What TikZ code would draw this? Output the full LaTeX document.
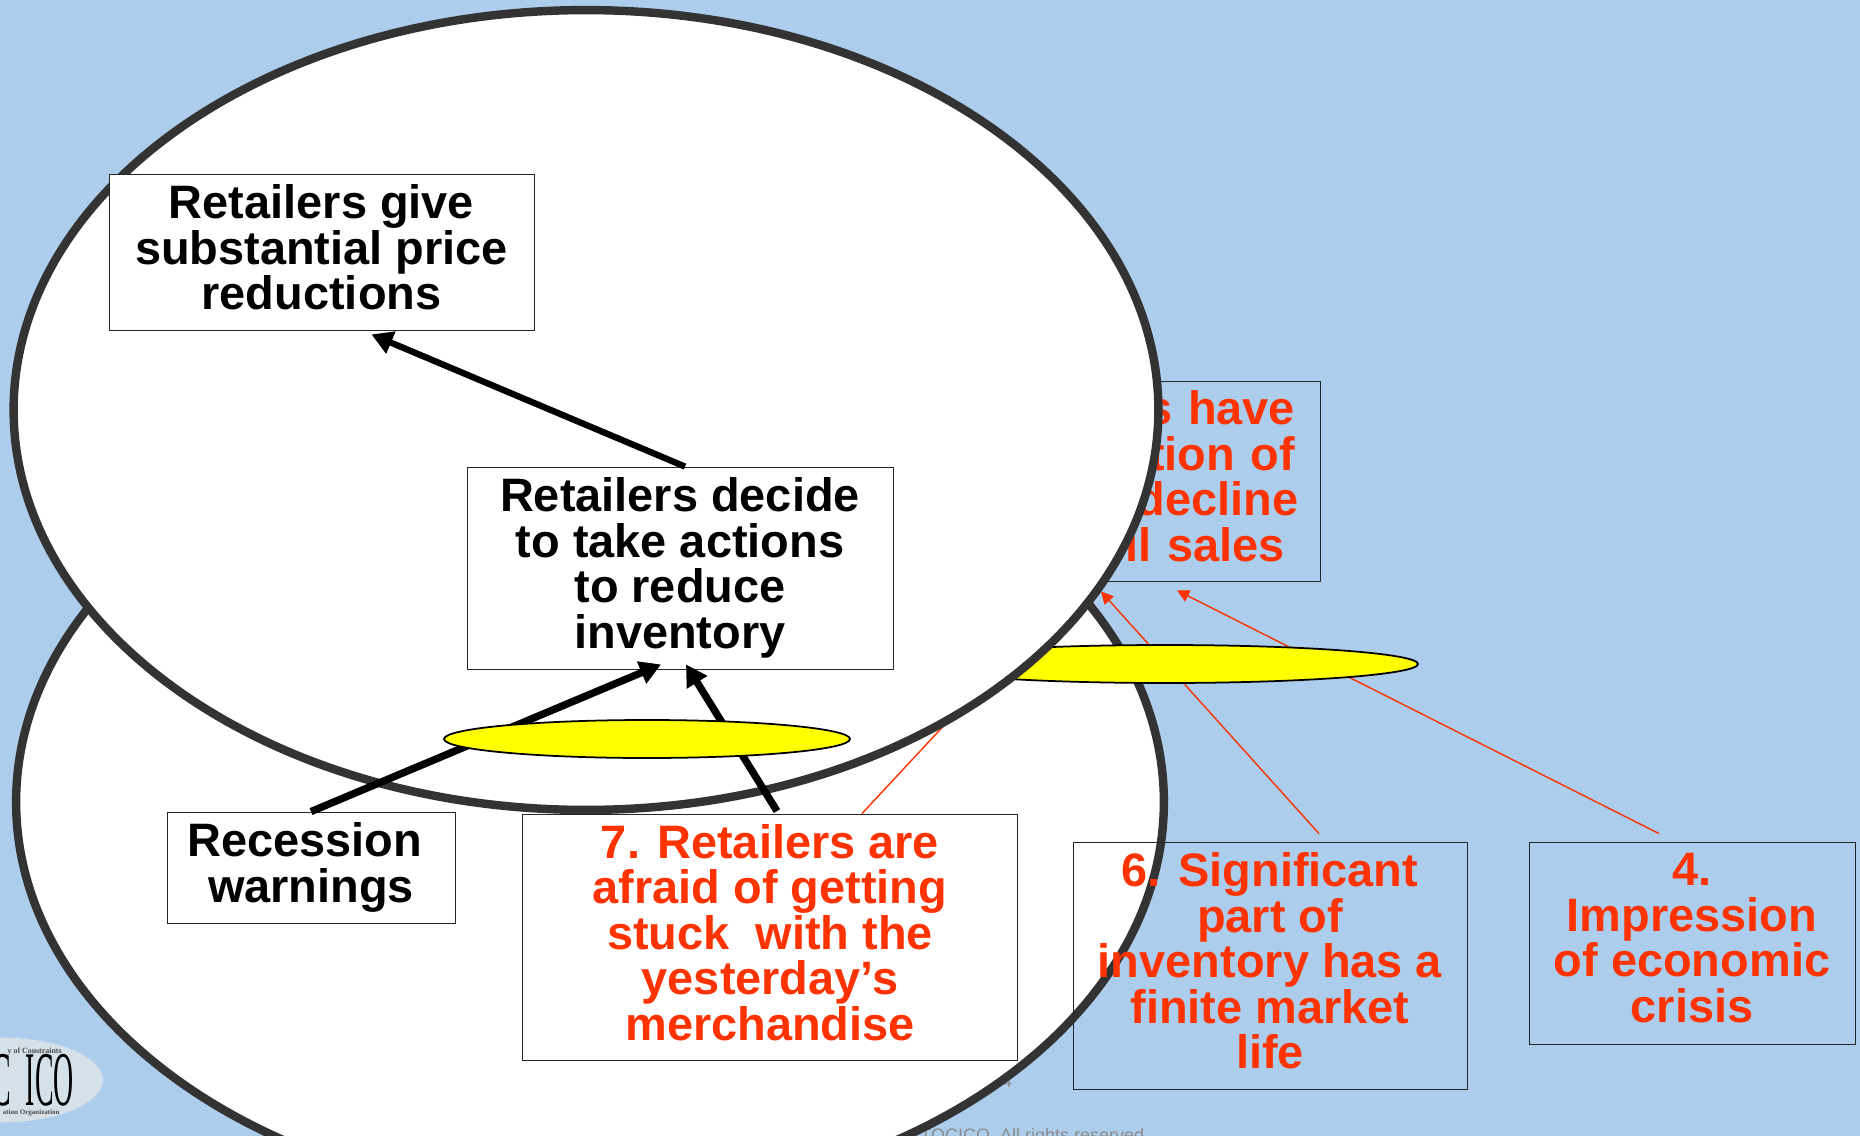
\documentclass[tikz,border=0pt]{standalone}
\usepackage{fontspec}
\setmainfont{Liberation Sans}
\newfontfamily\logofont{Liberation Serif}
\usetikzlibrary{shapes.geometric}
\usetikzlibrary{arrows.meta}
\definecolor{slidebg}{HTML}{ACCDEC}
\definecolor{causered}{HTML}{FF3300}
\definecolor{ringgrey}{HTML}{333333}
\definecolor{ovalyellow}{HTML}{FFFF00}
\definecolor{logogrey}{HTML}{D6E0E8}
\tikzset{
	ring/.style={ellipse, draw=ringgrey, fill=white, line width=4.8pt, inner sep=0pt},
	oval/.style={ellipse, draw=black, fill=ovalyellow, line width=1pt, inner sep=0pt},
	cause/.style={draw=black!85, line width=0.5pt, inner sep=0pt, align=center, text depth=5.6pt, font=\fontsize{26.7}{25.9}\selectfont\bfseries},
	redcause/.style={cause, text=causered},
	thickarrow/.style={line width=4.2pt, -{Triangle[length=12pt,width=13pt]}},
	redarrow/.style={draw=causered, line width=0.8pt, -{Triangle[length=7pt,width=7pt]}},
	footer/.style={text=black!45, inner sep=0pt, font=\fontsize{10.25}{12}\selectfont}
}
\begin{document}
\begin{tikzpicture}[x=0.02cm,y=-0.02cm]
	\useasboundingbox (0,0) rectangle (1860,1136);
	\clip (0,0) rectangle (1860,1136);
	\fill[slidebg] (0,0) rectangle (1860,1136);
	% footer
	\node[footer, anchor=base west] (rights) at (920,1141) {TOCICO. All rights reserved};
	\node[footer, anchor=south] (page) at (1007,1088) {4};
	% logo
	\node[ellipse, fill=logogrey, inner sep=0pt, minimum width=4.12cm, minimum height=1.7cm] (logo) at (0,1080) {};
	\node[anchor=east, inner sep=0pt, xscale=0.36, font=\logofont\fontsize{44}{44}\selectfont] (logoname) at (74,1080) {C\kern23pt ICO};
	\node[anchor=east, inner sep=0pt, text=black!70, font=\logofont\fontsize{4.5}{5}\selectfont\bfseries] (logotop) at (62,1052) {y of Constraints};
	\node[anchor=east, inner sep=0pt, text=black!70, font=\logofont\fontsize{4}{5}\selectfont\bfseries] (logolow) at (60,1113) {ation Organization};
	% lower circle with the hidden causes
	\node[ring, minimum width=22.96cm, minimum height=16cm] (lower) at (590,802) {};
	\node[cause, text=causered, minimum width=8.52cm, minimum height=4cm, align=right, text width=7.52cm, text depth=83.3pt] (have) at (1107,481)
		{s have\\tion of\\decline\kern-2pt\\il sales\kern6pt};
	\node[redcause, fill=white, minimum width=9.9cm, minimum height=4.92cm] (retail) at (770,937)
		{7. Retailers are\\afraid of getting\\stuck~ with the\\yesterday’s\\merchandise};
	\node[redcause, minimum width=7.88cm, minimum height=4.94cm] (market) at (1270,965.5)
		{6. Significant\\part of\\inventory has a\\finite market\\life};
	\node[redcause, minimum width=6.52cm, minimum height=4.04cm] (crisis) at (1692,943)
		{4.\\Impression\\of economic\\crisis};
	\draw[redarrow] ([xshift=1.84cm]retail.north) -- (1070,590);
	\draw[redarrow] ([xshift=0.98cm,yshift=0.16cm]market.north) -- ([xshift=-0.12cm,yshift=-0.2cm]have.south);
	\draw[redarrow] ([xshift=-0.66cm,yshift=0.16cm]crisis.north) -- ([xshift=1.4cm,yshift=-0.18cm]have.south);
	\node[oval, minimum width=10.12cm, minimum height=0.76cm] (ovalright) at (1165,664) {};
	% upper circle
	\node[ring, minimum width=22.9cm, minimum height=16cm] (upper) at (586,410) {};
	\node[cause, fill=white, minimum width=8.5cm, minimum height=3.12cm] (give) at (321.5,252)
		{Retailers give\\substantial price\\reductions};
	\node[cause, fill=white, minimum width=8.52cm, minimum height=4.04cm] (decide) at (680,568)
		{Retailers decide\\to take actions\\to reduce\\inventory};
	\node[cause, fill=white, minimum width=5.76cm, minimum height=2.22cm] (recession) at (311,867.5)
		{Recession\kern7pt\\warnings};
	\draw[thickarrow] (recession.north) -- ([xshift=-0.38cm,yshift=0.1cm]decide.south);
	\draw[thickarrow] ([xshift=0.14cm,yshift=0.05cm]retail.north) -- ([xshift=0.12cm,yshift=0.1cm]decide.south);
	\draw[thickarrow, line width=3.6pt] ([xshift=0.1cm]decide.north) -- ([xshift=1cm,yshift=-0.08cm]give.south);
	\node[oval, minimum width=8.12cm, minimum height=0.76cm] (ovalleft) at (647,739) {};
\end{tikzpicture}
\end{document}
